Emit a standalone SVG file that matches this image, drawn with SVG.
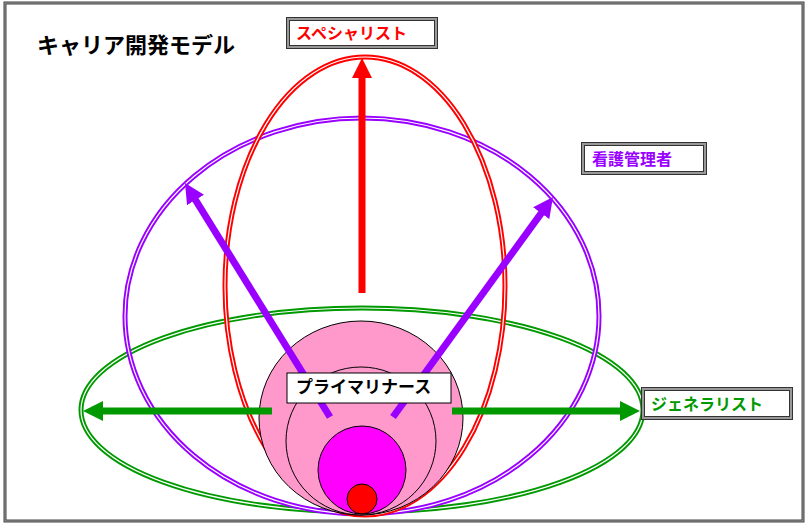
<svg xmlns="http://www.w3.org/2000/svg" width="806" height="525" viewBox="0 0 806 525">
<style>
text{font-family:"Noto Sans CJK JP","Noto Sans CJK SC",sans-serif;font-weight:bold}
.ring{fill:none;stroke-width:5}
.gap{fill:none;stroke:#fff;stroke-width:1.2}
.boxo{fill:#fff;stroke:#333;stroke-width:4}
.boxi{fill:none;stroke:#999;stroke-width:2}
.circ{stroke:#000;stroke-width:1}
</style>
<defs>
<marker id="hr" viewBox="0 0 20 20" markerWidth="20" markerHeight="20" markerUnits="userSpaceOnUse" refX="2" refY="10" orient="auto"><path d="M0,0 L20,10 L0,20 z" fill="#ff0000"/></marker>
<marker id="hp" viewBox="0 0 20 20" markerWidth="20" markerHeight="20" markerUnits="userSpaceOnUse" refX="2" refY="10" orient="auto"><path d="M0,0 L20,10 L0,20 z" fill="#9900ff"/></marker>
<marker id="hg" viewBox="0 0 20 20" markerWidth="20" markerHeight="20" markerUnits="userSpaceOnUse" refX="2" refY="10" orient="auto"><path d="M0,0 L20,10 L0,20 z" fill="#009900"/></marker>
</defs>
<rect x="0" y="0" width="806" height="525" fill="#fff"/>
<rect x="5" y="3" width="798" height="518" fill="none" stroke="#444" stroke-width="3"/>
<rect x="5" y="3" width="798" height="518" fill="none" stroke="#999" stroke-width="1"/>

<g id="title"><text x="37" y="53" font-size="22" fill="#000" font-weight="900">キャリア開発モデル</text></g>

<g id="rings">
<ellipse class="ring" cx="362" cy="410" rx="281" ry="102" stroke="#009900"/>
<ellipse class="gap" cx="362" cy="410" rx="281" ry="102"/>
<ellipse class="ring" cx="362" cy="316" rx="237" ry="198" stroke="#9900ff"/>
<ellipse class="gap" cx="362" cy="316" rx="237" ry="198"/>
<ellipse class="ring" cx="365" cy="286" rx="140" ry="229" stroke="#ff0000"/>
<ellipse class="gap" cx="365" cy="286" rx="140" ry="229"/>
</g>

<g id="primary-circles">
<ellipse class="circ" cx="361" cy="418" rx="102" ry="97" fill="#ff99cc"/>
<ellipse class="circ" cx="361" cy="441" rx="75" ry="74" fill="#ff99cc"/>
<circle class="circ" cx="362" cy="470" r="44" fill="#ff00ff"/>
<circle class="circ" cx="362" cy="499" r="15" fill="#ff0000"/>
</g>

<g id="connectors">
<line x1="362" y1="293" x2="362" y2="76" stroke="#ff0000" stroke-width="7" marker-end="url(#hr)"/>
<line x1="330" y1="417" x2="194.5" y2="198.3" stroke="#9900ff" stroke-width="7" marker-end="url(#hp)"/>
<line x1="393" y1="417" x2="542.4" y2="211.6" stroke="#9900ff" stroke-width="7" marker-end="url(#hp)"/>
<line x1="272" y1="411" x2="101" y2="411" stroke="#009900" stroke-width="7" marker-end="url(#hg)"/>
<line x1="452" y1="411" x2="622" y2="411" stroke="#009900" stroke-width="7" marker-end="url(#hg)"/>
</g>

<g id="primary-nurse">
<rect x="287" y="373" width="164" height="30" fill="#fff" stroke="#000" stroke-width="1"/>
<text x="296" y="393" font-size="17" fill="#000" font-weight="900">プライマリナース</text>
</g>

<g id="specialist">
<rect class="boxo" x="288" y="19" width="148" height="28"/>
<rect class="boxi" x="288" y="19" width="148" height="28"/>
<text x="296" y="39" font-size="16" fill="#ff0000">スペシャリスト</text>
</g>

<g id="manager">
<rect class="boxo" x="583" y="144" width="122" height="29"/>
<rect class="boxi" x="583" y="144" width="122" height="29"/>
<text x="592" y="165" font-size="16" fill="#9900ff">看護管理者</text>
</g>

<g id="generalist">
<rect class="boxo" x="643" y="389" width="148" height="29"/>
<rect class="boxi" x="643" y="389" width="148" height="29"/>
<text x="651" y="410" font-size="16" fill="#009900">ジェネラリスト</text>
</g>
</svg>
